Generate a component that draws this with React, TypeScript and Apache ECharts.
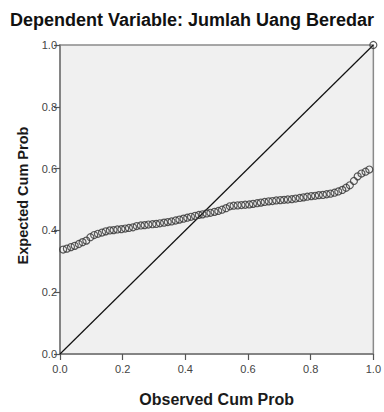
import React, { useEffect, useRef } from "react";
import * as echarts from "echarts";

const titleText = "Dependent Variable: Jumlah Uang Beredar";
const xAxisName = "Observed Cum Prob";
const yAxisName = "Expected Cum Prob";

const observedCumProb = [
  0.010, 0.022, 0.035, 0.047, 0.060, 0.072, 0.084, 0.097, 0.109, 0.121,
  0.134, 0.146, 0.159, 0.171, 0.183, 0.196, 0.208, 0.220, 0.233, 0.245,
  0.258, 0.270, 0.282, 0.295, 0.307, 0.319, 0.332, 0.344, 0.356, 0.369,
  0.381, 0.394, 0.406, 0.418, 0.431, 0.443, 0.455, 0.468, 0.480, 0.493,
  0.505, 0.517, 0.530, 0.542, 0.554, 0.567, 0.579, 0.591, 0.604, 0.616,
  0.629, 0.641, 0.653, 0.666, 0.678, 0.690, 0.703, 0.715, 0.727, 0.740,
  0.752, 0.765, 0.777, 0.789, 0.802, 0.814, 0.826, 0.839, 0.851, 0.863,
  0.876, 0.888, 0.901, 0.913, 0.925, 0.938, 0.950, 0.962, 0.975, 0.987,
  1.0,
];

const expectedCumProb = [
  0.338, 0.341, 0.346, 0.350, 0.356, 0.362, 0.367, 0.378, 0.385, 0.389,
  0.393, 0.397, 0.400, 0.401, 0.403, 0.404, 0.406, 0.408, 0.410, 0.414,
  0.416, 0.417, 0.419, 0.420, 0.421, 0.423, 0.425, 0.427, 0.429, 0.432,
  0.435, 0.438, 0.441, 0.444, 0.447, 0.450, 0.452, 0.455, 0.457, 0.460,
  0.463, 0.467, 0.472, 0.478, 0.480, 0.481, 0.482, 0.483, 0.484, 0.486,
  0.488, 0.490, 0.492, 0.494, 0.495, 0.497, 0.498, 0.499, 0.500, 0.501,
  0.503, 0.505, 0.507, 0.509, 0.511, 0.512, 0.514, 0.515, 0.517, 0.519,
  0.522, 0.526, 0.531, 0.538, 0.546, 0.560, 0.575, 0.584, 0.590, 0.597,
  1.0,
];

const diagonalX = [0, 1];
const diagonalY = [0, 1];

const FONT = "'Liberation Sans', Arial, sans-serif";

export default function App() {
  const ref = useRef<HTMLDivElement>(null);
  useEffect(() => {
    if (!ref.current) return;
    const chart = echarts.init(ref.current, undefined, { renderer: "svg" });
    const points = observedCumProb.map((x, i) => [x, expectedCumProb[i]]);
    const diag = diagonalX.map((x, i) => [x, diagonalY[i]]);
    const axisCommon = {
      type: "value" as const,
      min: 0,
      max: 1,
      interval: 0.2,
      nameLocation: "middle" as const,
      axisLine: { show: true, lineStyle: { color: "#7a7a7a", width: 1.5 } },
      axisTick: { show: true, length: 6, lineStyle: { color: "#555", width: 1.2 } },
      axisLabel: {
        fontFamily: FONT,
        fontSize: 11,
        color: "#444",
        formatter: (v: number) => v.toFixed(1),
      },
      splitLine: { show: false },
    };
    chart.setOption({
      animation: false,
      backgroundColor: "#ffffff",
      title: {
        text: titleText,
        left: "center",
        top: 6,
        textStyle: { fontFamily: FONT, fontWeight: "bold", fontSize: 18, color: "#111" },
      },
      grid: {
        left: 60,
        right: 8,
        top: 45,
        bottom: 50,
        show: true,
        backgroundColor: "#f0f0f0",
        borderColor: "#8a8a8a",
        borderWidth: 1.5,
      },
      xAxis: {
        ...axisCommon,
        name: xAxisName,
        nameGap: 37,
        nameTextStyle: { fontFamily: FONT, fontWeight: "bold", fontSize: 16, color: "#1a1a1a" },
        axisLabel: { ...axisCommon.axisLabel, margin: 9 },
      },
      yAxis: {
        ...axisCommon,
        name: yAxisName,
        nameGap: 30,
        nameTextStyle: {
          fontFamily: FONT,
          fontWeight: "bold",
          fontSize: 14.5,
          color: "#1a1a1a",
          padding: [0, 0, 0, 8],
        },
        axisLabel: { ...axisCommon.axisLabel, margin: 3 },
      },
      series: [
        {
          type: "line",
          data: diag,
          symbol: "none",
          lineStyle: { color: "#111", width: 1.2 },
          silent: true,
          z: 2,
        },
        {
          type: "scatter",
          data: points,
          symbol: "circle",
          symbolSize: 7,
          itemStyle: { color: "rgba(0,0,0,0)", borderColor: "#333", borderWidth: 1.2 },
          z: 3,
        },
      ],
    });
    return () => chart.dispose();
  }, []);
  return <div ref={ref} style={{ width: 384, height: 412, position: "absolute", left: 0, top: 0 }} />;
}
